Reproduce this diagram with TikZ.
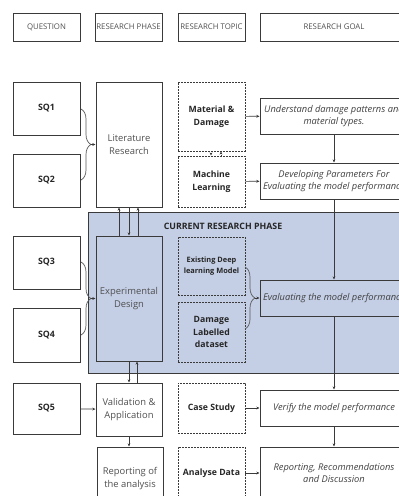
\documentclass[tikz,border=0pt]{standalone}
\usepackage{fontspec}
\setmainfont{Open Sans}
\usetikzlibrary{decorations.pathreplacing,arrows.meta}

\definecolor{phaseblue}{HTML}{C4CFE6}
\definecolor{linegray}{HTML}{3A3A3A}
\definecolor{textgray}{HTML}{4F4F4F}

\begin{document}
\begin{tikzpicture}[x = 1pt, y = -1pt,
        head/.style = {draw = linegray, line width = 1pt, minimum height = 28pt, inner sep = 0pt,
                font = \fontsize{7.8}{9}\selectfont, text = textgray},
        qbox/.style = {draw = linegray, line width = 1pt, minimum width = 67pt, inner sep = 0pt,
                font = \fontsize{8.8}{11}\selectfont\bfseries, text = black!85},
        pbox/.style = {draw = linegray, line width = 1pt, minimum width = 66pt, inner sep = 0pt,
                align = center, font = \fontsize{9.4}{12.5}\selectfont, text = textgray},
        tbox/.style = {draw = linegray, line width = 0.9pt, dash pattern = on 1.6pt off 1.4pt,
                minimum width = 67pt, inner sep = 0pt, align = center,
                font = \fontsize{8.7}{12.5}\selectfont\bfseries, text = black!85},
        gbox/.style = {draw = linegray, line width = 1pt, minimum width = 148pt, inner sep = 0pt,
                align = center, font = \fontsize{9.3}{12.5}\selectfont\itshape, text = black!75},
        arr/.style = {draw = linegray, line width = 0.7pt, -{Stealth[length = 3.2pt, width = 2.8pt]}},
        curly/.style = {draw = linegray!85, line width = 0.7pt,
                decorate, decoration = {brace, amplitude = 10pt}}]
        \useasboundingbox (0,0) rectangle (399,496);
        \clip (0,0) rectangle (399,496);

        \draw [fill = phaseblue, draw = linegray, line width = 1pt] (88,212) rectangle (420,373);
        \node [font = \fontsize{8.8}{10}\selectfont\bfseries, text = black!85] (current) at (223,226) {CURRENT RESEARCH PHASE};

        \node [head, minimum width = 67pt] (hq) at (46.5,27) {QUESTION};
        \node [head, minimum width = 67pt] (hp) at (128.5,27) {RESEARCH PHASE};
        \node [head, minimum width = 67pt] (ht) at (211.5,27) {RESEARCH TOPIC};
        \node [head, minimum width = 148pt] (hg) at (334,27) {RESEARCH GOAL};

        \node [qbox, minimum height = 53pt] (sq1) at (46.5,108.5) {SQ1};
        \node [qbox, minimum height = 53pt] (sq2) at (46.5,180.5) {SQ2};
        \node [qbox, minimum height = 53pt] (sq3) at (46.5,262.5) {SQ3};
        \node [qbox, minimum height = 54pt] (sq4) at (46.5,335) {SQ4};
        \node [qbox, minimum height = 51pt] (sq5) at (46.5,408.5) {SQ5};

        \node [pbox, minimum height = 125pt] (lit) at (129,144.5) {Literature\\Research};
        \node [pbox, minimum height = 125pt, fill = phaseblue] (exp) at (129,298.5) {Experimental\\Design};
        \node [pbox, minimum height = 53pt] (val) at (129,409.5) {Validation \&\\Application};
        \node [pbox, minimum height = 63pt] (rep) at (130,478.5) {Reporting of\\the analysis};

        \node [tbox, minimum height = 69pt] (mat) at (211.5,116.5) {Material \&\\Damage};
        \node [tbox, minimum height = 51pt] (ml) at (211.5,181.5) {Machine\\Learning};
        \node [tbox, minimum height = 58pt, font = \fontsize{7.4}{10.5}\selectfont\bfseries] (dl) at (211.5,266) {Existing Deep\\learning Model};
        \node [tbox, minimum height = 60pt] (data) at (211.5,332) {Damage\\Labelled\\dataset};
        \node [tbox, minimum height = 50pt] (case) at (211.5,408) {Case Study};
        \node [tbox, minimum height = 52pt] (ana) at (211.5,473) {Analyse Data};

        \node [gbox, minimum height = 36pt] (g1) at (334,116) {Understand damage patterns and\\material types.};
        \node [gbox, minimum height = 36pt] (g2) at (334,181) {Developing Parameters For\\Evaluating the model performance};
        \node [gbox, minimum height = 36pt] (g3) at (334,298) {Evaluating the model performance};
        \node [gbox, minimum height = 36pt] (g4) at (334,408) {Verify the model performance};
        \node [gbox, minimum height = 52pt] (g5) at (334,473) {Reporting, Recommendations\\and Discussion};

        \draw [curly] (81,109) -- (81,180);
        \draw [curly] (81,262) -- (81,335);
        \draw [curly] (245,267) -- (245,329);
        \coordinate (b12) at (91,144.5);
        \coordinate (b34) at (91,298.5);
        \coordinate (bdl) at (255,298);
        \draw [arr] (b12) -- (lit.west);
        \draw [arr] (b34) -- (exp.west);
        \draw [arr] (bdl) -- (g3.west);

        \draw [arr] ([xshift = -10pt]exp.north) -- ([xshift = -10pt]lit.south);
        \draw [arr] (lit.south) -- (exp.north);
        \draw [arr] ([xshift = 9pt]exp.north) -- ([xshift = 9pt]lit.south);
        \draw [arr] (exp.south) -- (val.north);
        \draw [arr] ([xshift = 8pt]val.north) -- ([xshift = 8pt]exp.south);
        \draw [arr] (val.south) -- (val.south |- rep.north);
        \draw [arr] (sq5) -- (val);

        \draw [arr, dotted] ([xshift = -0.5pt]mat.south) -- ([xshift = -0.5pt]ml.north);
        \draw [arr, dotted] ([xshift = 9.5pt]ml.north) -- ([xshift = 9.5pt]mat.south);

        \draw [arr] (mat) -- (g1);
        \draw [arr] (ml) -- (g2);
        \draw [arr] (case) -- (g4);
        \draw [arr] (ana) -- (g5);
        \draw [arr] (g1) -- (g2);
        \draw [arr] (g2) -- (g3);
        \draw [arr] (g3) -- (g4);
        \draw [arr] (g4) -- (g5);
\end{tikzpicture}
\end{document}
